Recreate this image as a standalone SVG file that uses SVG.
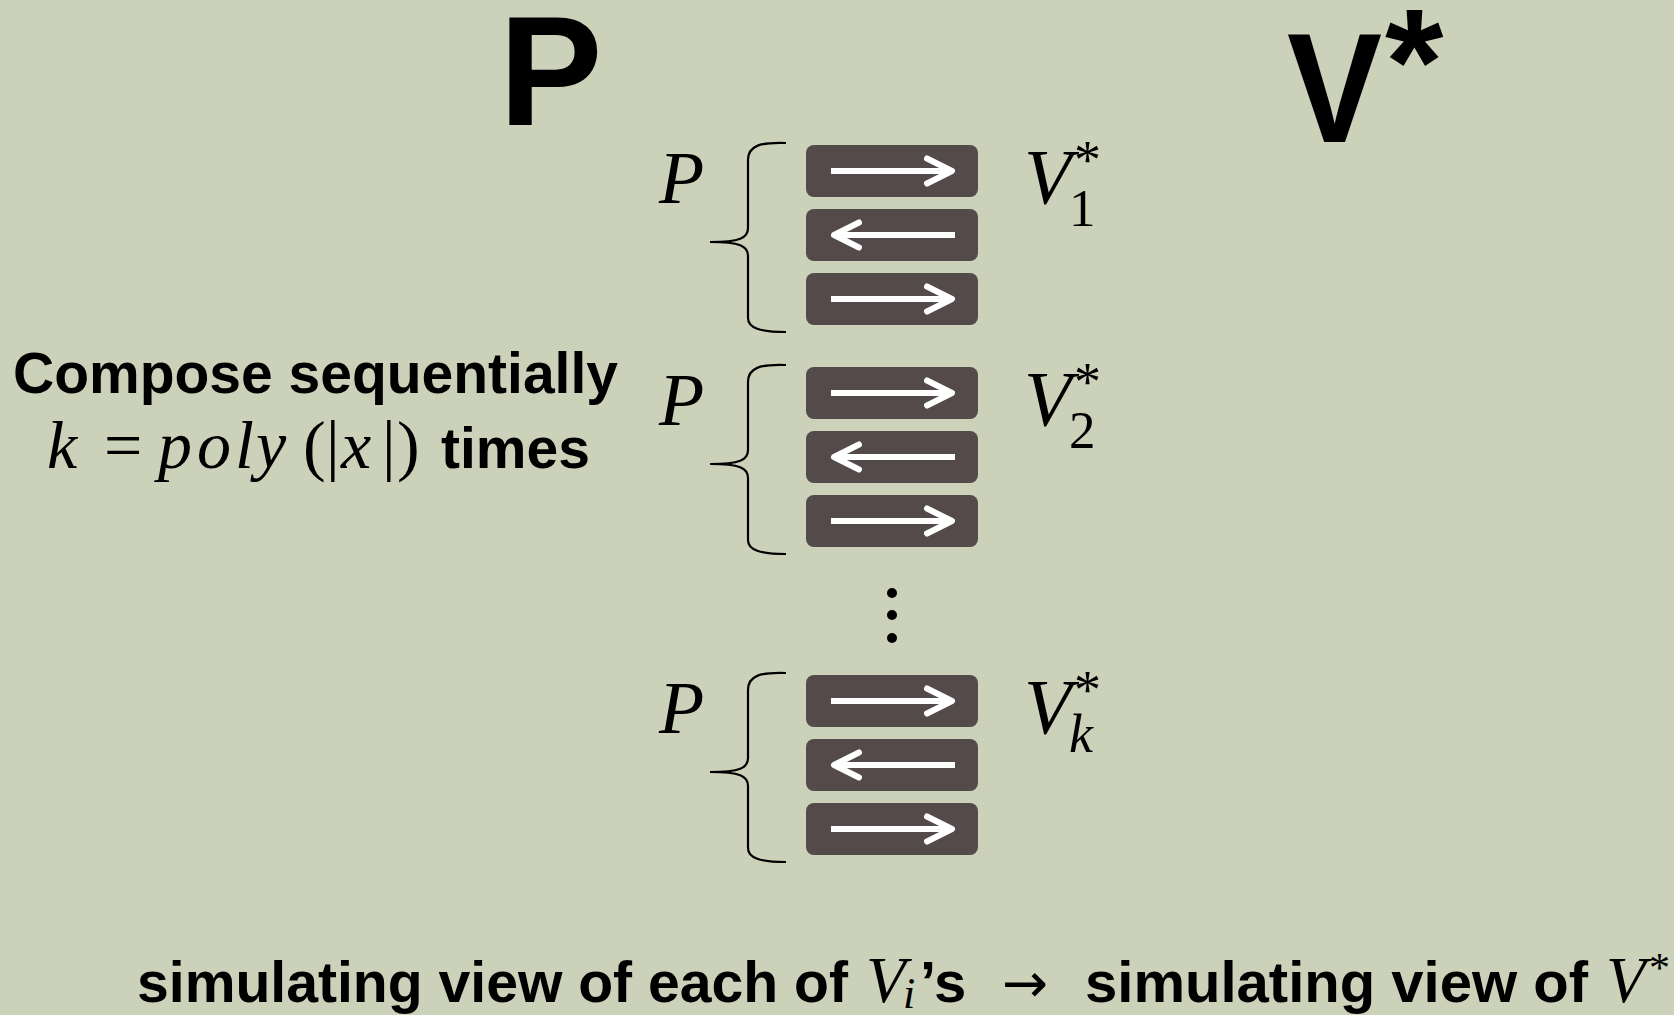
<svg xmlns="http://www.w3.org/2000/svg" width="1674" height="1015" viewBox="0 0 1674 1015">
<style>
.bold{font-family:"Liberation Sans",Arial,sans-serif;font-weight:bold;fill:#000}
.math{font-family:"Liberation Serif","Times New Roman",serif;fill:#000}
.it{font-style:italic}
.box{fill:#534a49}
.brace{fill:none;stroke:#000;stroke-width:2.2}
.msg{stroke:#fff;stroke-width:6;fill:none;marker-end:url(#ah)}
</style>
<defs>
<marker id="ah" viewBox="-30 -16 34 32" refX="0" refY="0" markerWidth="34" markerHeight="32" markerUnits="userSpaceOnUse" orient="auto" overflow="visible">
<path d="M-25,-12.5 L0,0 L-25,12.5" fill="none" stroke="#fff" stroke-width="6" stroke-linecap="round" stroke-linejoin="round"/>
</marker>
<g id="stack">
<path class="brace" d="M786,143 C760,142 748,146 748,160 L748,228 C748,238 740,242 710,242 C740,242 748,246 748,256 L748,318 C748,328 760,332 786,332"/>
<rect class="box" x="806" y="145" width="172" height="52" rx="8"/>
<rect class="box" x="806" y="209" width="172" height="52" rx="8"/>
<rect class="box" x="806" y="273" width="172" height="52" rx="8"/>
<text class="math it" x="659" y="203" font-size="74">P</text>
<text class="math it" x="1024" y="203" font-size="78">V</text>
<text class="math" x="1074" y="178" font-size="54">*</text>
</g>
</defs>
<rect width="1674" height="1015" fill="#ccd1b9"/>

<g id="title-P"><text class="bold" x="499" y="125" font-size="155">P</text></g>
<g id="title-V"><text class="bold" x="1287" y="142" font-size="156" textLength="95" lengthAdjust="spacingAndGlyphs">V</text><text class="bold" x="1385" y="114" font-size="150">*</text></g>

<g id="compose-label">
<text class="bold" x="13" y="393" font-size="57">Compose sequentially</text>
<text class="math" y="468" font-size="68"><tspan class="it" x="47">k</tspan><tspan x="104">=</tspan><tspan class="it" x="158">p</tspan><tspan class="it" x="197">o</tspan><tspan class="it" x="235">l</tspan><tspan class="it" x="256">y</tspan><tspan x="303">(</tspan><tspan x="326">|</tspan><tspan class="it" x="341">x</tspan><tspan x="382">|</tspan><tspan x="397">)</tspan></text>
<text class="bold" x="441" y="468" font-size="57">times</text>
</g>

<g id="round-1">
<use href="#stack"/>
<text class="math" x="1069" y="226" font-size="53">1</text>
</g>
<g id="round-2" transform="translate(0,222)">
<use href="#stack"/>
<text class="math" x="1069" y="226" font-size="53">2</text>
</g>
<g id="dots">
<circle cx="892" cy="593" r="5"/><circle cx="892" cy="615" r="5"/><circle cx="892" cy="638" r="5"/>
</g>
<g id="round-k" transform="translate(0,530)">
<use href="#stack"/>
<text class="math it" x="1069" y="222" font-size="54">k</text>
</g>

<g id="connectors">
<line class="msg" x1="831" y1="171" x2="952" y2="171"/>
<line class="msg" x1="955" y1="235" x2="834" y2="235"/>
<line class="msg" x1="831" y1="299" x2="952" y2="299"/>
<line class="msg" x1="831" y1="393" x2="952" y2="393"/>
<line class="msg" x1="955" y1="457" x2="834" y2="457"/>
<line class="msg" x1="831" y1="521" x2="952" y2="521"/>
<line class="msg" x1="831" y1="701" x2="952" y2="701"/>
<line class="msg" x1="955" y1="765" x2="834" y2="765"/>
<line class="msg" x1="831" y1="829" x2="952" y2="829"/>
</g>

<g id="caption">
<text class="bold" x="137" y="1002" font-size="58" textLength="711" lengthAdjust="spacingAndGlyphs">simulating view of each of</text>
<text class="math it" x="866" y="1002" font-size="65">V</text>
<text class="math it" x="903" y="1008" font-size="44">i</text>
<text class="bold" x="920" y="1002" font-size="58">’s</text>
<text x="1002" y="1002" font-size="55" font-family="DejaVu Sans,sans-serif">→</text>
<text class="bold" x="1085" y="1002" font-size="58" textLength="503" lengthAdjust="spacingAndGlyphs">simulating view of</text>
<text class="math it" x="1606" y="1002" font-size="65">V</text>
<text class="math" x="1649" y="982" font-size="42">*</text>
</g>
</svg>
